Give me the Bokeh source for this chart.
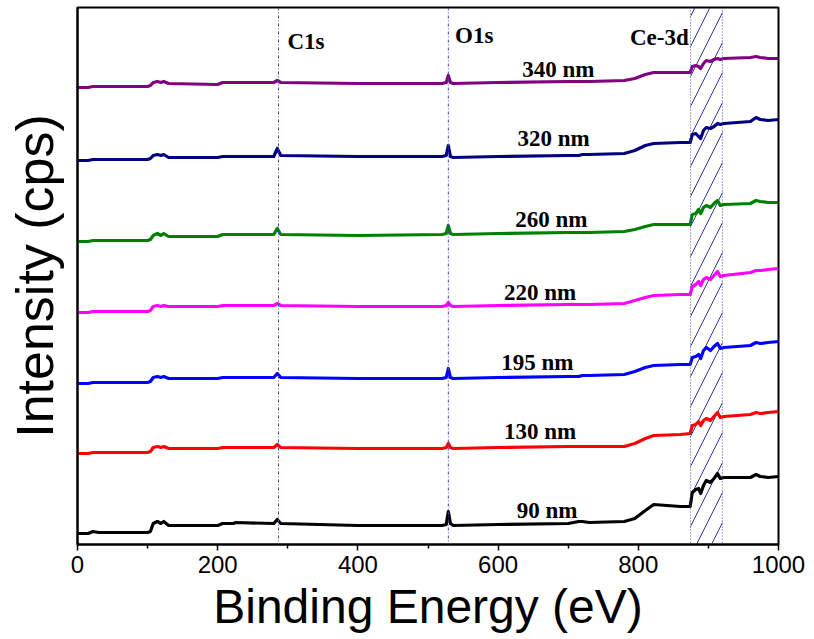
from bokeh.plotting import figure
from bokeh.models import Span, Range1d, FixedTicker
from bokeh.core.properties import value
from bokeh.embed import file_html
from bokeh.resources import INLINE

# Binding energy grid (eV) shared by all spectra
energy = [0, 15, 22, 30, 100, 104, 108, 114, 119, 123, 130, 200, 207, 222, 226,
          280, 285, 290, 400, 520, 526, 529, 532, 536, 600, 700, 715, 720, 730,
          780, 795, 810, 822, 860, 874, 877, 882, 886, 889, 893, 897, 903, 908,
          913, 917, 922, 960, 968, 974, 985, 1000]

# Intensities (arbitrary cps units, stacked)
i_90 = [11, 11, 13, 12, 12, 13, 21, 23, 21, 23, 19, 19, 21, 21, 22, 21, 25, 21, 19, 19,
        20, 33, 21, 19, 20, 21, 23, 23, 22, 23, 26, 34, 40, 38, 38, 52, 55, 56, 51, 59,
        64, 62, 66, 71, 66, 67, 67, 70, 68, 67, 68]
i_130 = [91, 91, 92, 92, 92, 93, 97, 98, 97, 98, 96, 96, 97, 97, 97, 97, 100, 97, 96, 96,
         97, 101, 97, 96, 97, 98, 98, 98, 98, 98, 101, 106, 109, 110, 111, 119, 120, 123, 119, 124,
         126, 124, 128, 132, 127, 128, 130, 132, 131, 132, 133]
i_195 = [161, 161, 162, 162, 162, 163, 167, 168, 167, 168, 166, 166, 167, 167, 167, 167, 171, 167, 166, 166,
         167, 176, 167, 166, 167, 168, 168, 169, 169, 170, 173, 177, 179, 180, 180, 187, 188, 190, 186, 194,
         197, 194, 198, 201, 196, 197, 199, 202, 201, 202, 203]
i_220 = [232, 232, 233, 233, 233, 234, 238, 239, 238, 239, 238, 238, 239, 239, 239, 239, 241, 239, 238, 238,
         239, 242, 239, 238, 239, 240, 240, 240, 240, 241, 244, 247, 249, 250, 250, 258, 260, 263, 259, 265,
         267, 265, 269, 273, 268, 269, 272, 274, 274, 275, 276]
i_260 = [303, 303, 304, 304, 304, 305, 309, 311, 309, 311, 308, 308, 310, 310, 310, 310, 316, 310, 309, 310,
         311, 319, 311, 310, 311, 312, 312, 312, 312, 313, 315, 318, 320, 320, 320, 330, 331, 335, 331, 337,
         339, 337, 341, 344, 339, 340, 341, 344, 343, 342, 342]
i_320 = [384, 384, 385, 385, 385, 386, 389, 390, 389, 390, 387, 387, 388, 388, 388, 388, 396, 389, 388, 388,
         389, 399, 388, 387, 388, 389, 389, 390, 390, 391, 394, 399, 401, 402, 402, 410, 411, 408, 406, 414,
         417, 416, 418, 421, 420, 421, 423, 427, 425, 424, 425]
i_340 = [457, 457, 458, 458, 458, 459, 462, 463, 462, 463, 461, 460, 462, 462, 462, 462, 464, 462, 461, 461,
         462, 469, 462, 461, 462, 463, 463, 463, 463, 464, 466, 470, 472, 472, 472, 478, 479, 478, 476, 481,
         484, 483, 485, 486, 485, 486, 487, 488, 487, 486, 486]

series = [
    ("90 nm", i_90, "black"),
    ("130 nm", i_130, "#ff0000"),
    ("195 nm", i_195, "#0000ff"),
    ("220 nm", i_220, "#ff00ff"),
    ("260 nm", i_260, "#008000"),
    ("320 nm", i_320, "#000080"),
    ("340 nm", i_340, "#800080"),
]

# Series label positions (energy, intensity)
label_text = ["90 nm", "130 nm", "195 nm", "220 nm", "260 nm", "320 nm", "340 nm"]
label_x = [670, 660, 656, 660, 676, 679, 686]
label_y = [34, 113, 182, 252, 325, 406, 475]

# Peak annotations
peak_text = ["C1s", "O1s", "Ce-3d"]
peak_x = [326, 566, 830]
peak_y = [503, 509, 507]
peak_lines = [286.7, 529]
ce_band = [874.5, 920]

x_ticks = [0, 200, 400, 600, 800, 1000]

p = figure(width=814, height=639, output_backend="svg", toolbar_location=None,
           x_range=Range1d(0, 1000), y_range=Range1d(0, 537),
           min_border_left=77, min_border_right=36, min_border_top=7, min_border_bottom=95)

p.grid.visible = False
p.outline_line_color = "black"
p.outline_line_width = 2
p.background_fill_color = "white"
p.border_fill_color = "white"

# Hatched Ce-3d band
p.quad(left=[ce_band[0]], right=[ce_band[1]], bottom=[0], top=[537],
       fill_alpha=0, line_color=None, hatch_pattern="/", hatch_color="#3030a8",
       hatch_scale=30, hatch_weight=1)
for loc in ce_band:
    p.add_layout(Span(location=loc, dimension="height", line_color="#5050a8",
                      line_dash="1 2", line_width=1))
for loc in peak_lines:
    p.add_layout(Span(location=loc, dimension="height", line_color="#4848a8",
                      line_dash="3 2 1 2", line_width=1))

for name, vals, col in series:
    p.line(energy, vals, line_color=col, line_width=3.2, line_join="round")

p.text(x=label_x, y=label_y, text=label_text, text_font=value("Liberation Serif"),
       text_font_style="bold", text_font_size="23px", text_align="center",
       text_baseline="middle", text_color="black")
p.text(x=peak_x, y=peak_y, text=peak_text, text_font=value("Liberation Serif"),
       text_font_style="bold", text_font_size="23px", text_align="center",
       text_baseline="middle", text_color="black")

xa = p.xaxis[0]
xa.ticker = FixedTicker(ticks=x_ticks, minor_ticks=[100, 300, 500, 700, 900])
xa.axis_label = "Binding Energy (eV)"
xa.axis_label_text_font = "Liberation Sans"
xa.axis_label_text_font_style = "normal"
xa.axis_label_text_font_size = "48px"
xa.axis_label_text_color = "black"
xa.axis_label_standoff = 4
xa.major_label_text_font = "Liberation Sans"
xa.major_label_text_font_size = "24px"
xa.major_label_text_color = "black"
xa.major_label_standoff = 5
xa.major_tick_in = 0
xa.major_tick_out = 6
xa.minor_tick_in = 0
xa.minor_tick_out = 4
xa.axis_line_width = 2
xa.axis_line_color = "black"
xa.major_tick_line_color = "black"
xa.minor_tick_line_color = "black"
xa.major_tick_line_width = 1.5
xa.minor_tick_line_width = 1.5

ya = p.yaxis[0]
ya.ticker = FixedTicker(ticks=[])
ya.axis_label = "Intensity (cps)"
ya.axis_label_text_font = "Liberation Sans"
ya.axis_label_text_font_style = "normal"
ya.axis_label_text_font_size = "52px"
ya.axis_label_text_color = "black"
ya.axis_label_standoff = 14
ya.axis_line_width = 2
ya.axis_line_color = "black"
ya.major_tick_line_color = None
ya.minor_tick_line_color = None

open("out.html", "w").write(file_html(p, INLINE))
